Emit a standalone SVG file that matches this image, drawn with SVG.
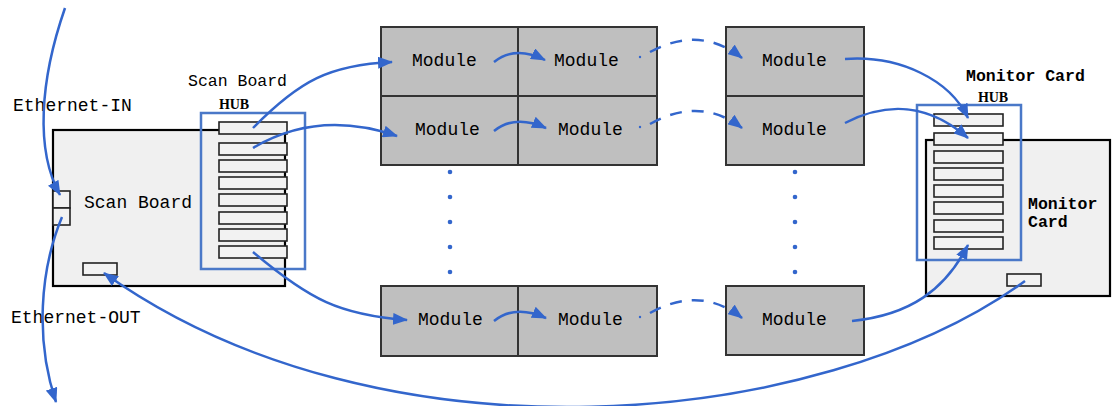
<svg xmlns="http://www.w3.org/2000/svg" width="1115" height="406" viewBox="0 0 1115 406">
<style>
.board{fill:#f0f0f0;stroke:#000;stroke-width:2.2}
.hub{fill:none;stroke:#4a78c8;stroke-width:2.5}
.port{fill:#f2f2f2;stroke:#222;stroke-width:1.6}
.mod{fill:#bfbfbf;stroke:#333;stroke-width:2}
.t{font-family:"Liberation Mono",monospace;font-size:18px;fill:#000}
.tb{font-family:"Liberation Mono",monospace;font-size:16.5px;font-weight:bold;fill:#000}
.hubt{font-family:"Liberation Serif",serif;font-size:14px;font-weight:bold;fill:#000}
.c{fill:none;stroke:#3366cc;stroke-width:2.5}
.d{fill:none;stroke:#3366cc;stroke-width:2.5;stroke-dasharray:12 10}
.dot{fill:#3366cc}
</style>
<defs>
<marker id="ah" markerUnits="userSpaceOnUse" markerWidth="16" markerHeight="12" refX="14" refY="6" orient="auto">
<path d="M0,0 L15,6 L0,12 Z" fill="#3366cc"/>
</marker>
</defs>

<g id="scan-board">
<rect class="board" x="53" y="130" width="232" height="156"/>
<rect class="port" x="53" y="191" width="17" height="17"/>
<rect class="port" x="53" y="208" width="17" height="17"/>
<rect class="port" x="83" y="263" width="34" height="12"/>
<text class="t" x="84" y="208">Scan Board</text>
</g>

<g id="scan-hub">
<rect class="hub" x="201" y="113" width="104" height="156"/>
<rect class="port" x="219" y="122" width="68" height="12"/>
<rect class="port" x="219" y="143" width="68" height="12"/>
<rect class="port" x="219" y="160" width="68" height="12"/>
<rect class="port" x="219" y="177" width="68" height="12"/>
<rect class="port" x="219" y="194" width="68" height="12"/>
<rect class="port" x="219" y="212" width="68" height="12"/>
<rect class="port" x="219" y="229" width="68" height="12"/>
<rect class="port" x="219" y="246" width="68" height="12"/>
<text class="hubt" x="219" y="109" textLength="30">HUB</text>
<text class="t" x="188" y="86" style="font-size:16.5px">Scan Board</text>
</g>

<g id="labels">
<text class="t" x="13" y="111">Ethernet-IN</text>
<text class="t" x="11" y="323">Ethernet-OUT</text>
</g>

<g id="module-r1c1"><rect class="mod" x="381" y="27" width="137" height="69"/><text class="t" x="412" y="66">Module</text></g>
<g id="module-r1c2"><rect class="mod" x="518" y="27" width="139" height="69"/><text class="t" x="554" y="66">Module</text></g>
<g id="module-r2c1"><rect class="mod" x="381" y="96" width="137" height="69"/><text class="t" x="415" y="135">Module</text></g>
<g id="module-r2c2"><rect class="mod" x="518" y="96" width="139" height="69"/><text class="t" x="558" y="135">Module</text></g>
<g id="module-r3c1"><rect class="mod" x="381" y="286" width="137" height="70"/><text class="t" x="418" y="325">Module</text></g>
<g id="module-r3c2"><rect class="mod" x="518" y="286" width="139" height="70"/><text class="t" x="558" y="325">Module</text></g>
<g id="module-r1cn"><rect class="mod" x="726" y="27" width="138" height="69"/><text class="t" x="762" y="66">Module</text></g>
<g id="module-r2cn"><rect class="mod" x="726" y="96" width="138" height="69"/><text class="t" x="762" y="135">Module</text></g>
<g id="module-r3cn"><rect class="mod" x="726" y="286" width="138" height="69"/><text class="t" x="762" y="325">Module</text></g>

<g id="ellipsis">
<circle class="dot" cx="450" cy="172" r="2.3"/><circle class="dot" cx="450" cy="197" r="2.3"/><circle class="dot" cx="450" cy="222" r="2.3"/><circle class="dot" cx="450" cy="247" r="2.3"/><circle class="dot" cx="450" cy="272" r="2.3"/>
<circle class="dot" cx="795" cy="172" r="2.3"/><circle class="dot" cx="795" cy="197" r="2.3"/><circle class="dot" cx="795" cy="222" r="2.3"/><circle class="dot" cx="795" cy="247" r="2.3"/><circle class="dot" cx="795" cy="272" r="2.3"/>
</g>

<g id="monitor-card">
<rect class="board" x="926" y="140" width="184" height="156"/>
<rect class="port" x="1007" y="274" width="34" height="12"/>
<text class="tb" x="1028" y="209">Monitor</text>
<text class="tb" x="1028" y="227">Card</text>
</g>

<g id="monitor-hub">
<rect class="hub" x="917" y="105" width="104" height="155"/>
<rect class="port" x="934" y="114" width="69" height="12"/>
<rect class="port" x="934" y="133" width="69" height="12"/>
<rect class="port" x="934" y="151" width="69" height="12"/>
<rect class="port" x="934" y="168" width="69" height="12"/>
<rect class="port" x="934" y="185" width="69" height="12"/>
<rect class="port" x="934" y="202" width="69" height="12"/>
<rect class="port" x="934" y="220" width="69" height="12"/>
<rect class="port" x="934" y="237" width="69" height="12"/>
<text class="hubt" x="978" y="102" textLength="30">HUB</text>
<text class="tb" x="966" y="81">Monitor Card</text>
</g>

<g id="connectors">
<path class="c" d="M65 8 C40 80 35 150 60 195" marker-end="url(#ah)"/>
<path class="c" d="M62 217 C40 270 35 340 56 402" marker-end="url(#ah)"/>
<path class="c" d="M1025 281 C820 430 380 470 104 273" marker-end="url(#ah)"/>
<path class="c" d="M253 128 C300 80 330 65 392 62" marker-end="url(#ah)"/>
<path class="c" d="M253 148 C300 120 350 120 397 136" marker-end="url(#ah)"/>
<path class="c" d="M253 252 C310 300 340 315 407 320" marker-end="url(#ah)"/>
<path class="c" d="M494 62 Q515 45 545 60" marker-end="url(#ah)"/>
<path class="c" d="M494 131 Q515 114 546 128" marker-end="url(#ah)"/>
<path class="c" d="M494 321 Q515 304 546 318" marker-end="url(#ah)"/>
<path class="d" d="M650 52 Q700 25 742 58" marker-end="url(#ah)"/>
<path class="d" d="M650 124 Q700 96 742 128" marker-end="url(#ah)"/>
<path class="d" d="M650 313 Q700 285 742 318" marker-end="url(#ah)"/>
<circle class="dot" cx="640" cy="57" r="1.2"/>
<circle class="dot" cx="640" cy="127" r="1.2"/>
<circle class="dot" cx="640" cy="317" r="1.2"/>
<path class="c" d="M845 59 C900 55 950 80 968 118" marker-end="url(#ah)"/>
<path class="c" d="M845 123 C890 100 930 105 968 138" marker-end="url(#ah)"/>
<path class="c" d="M852 321 C910 315 945 290 968 245" marker-end="url(#ah)"/>
</g>
</svg>
